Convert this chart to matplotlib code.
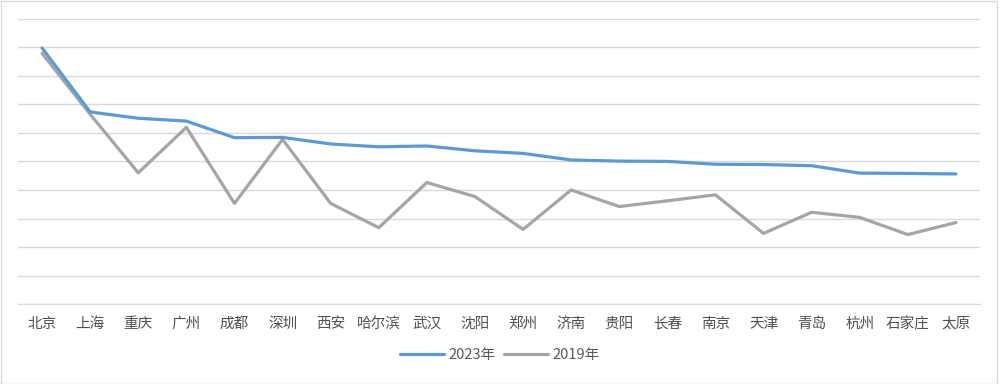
import matplotlib
matplotlib.use("Agg")
import matplotlib.pyplot as plt
from matplotlib.patches import Rectangle

plt.rcParams["font.family"] = ["Noto Sans CJK SC", "DejaVu Sans"]

cities = ["北京", "上海", "重庆", "广州", "成都", "深圳", "西安", "哈尔滨", "武汉", "沈阳",
          "郑州", "济南", "贵阳", "长春", "南京", "天津", "青岛", "杭州", "石家庄", "太原"]
v2023 = [8.97, 6.73, 6.51, 6.41, 5.83, 5.84, 5.61, 5.51, 5.54, 5.37,
         5.28, 5.05, 5.01, 5.00, 4.90, 4.89, 4.85, 4.59, 4.58, 4.56]
v2019 = [8.78, 6.65, 4.60, 6.19, 3.53, 5.77, 3.53, 2.68, 4.26, 3.77,
         2.62, 4.00, 3.42, 3.62, 3.83, 2.48, 3.22, 3.04, 2.44, 2.86]

fig = plt.figure(figsize=(10, 3.84), dpi=100)
ax = fig.add_axes([0.018, 0.2076, 0.962, 0.7442])

x = range(len(cities))
ax.plot(x, v2023, color="#5b9bd5", lw=2.3, label="2023年", solid_capstyle="round", zorder=3)
ax.plot(x, v2019, color="#a5a5a5", lw=2.3, label="2019年", solid_capstyle="round", zorder=2)

ax.set_xlim(-0.5, len(cities) - 0.5)
ax.set_ylim(0, 10)
ax.set_yticks(range(0, 11))
ax.yaxis.grid(True, color="#d9d9d9", lw=1)
ax.set_axisbelow(True)
ax.tick_params(axis="y", left=False, labelleft=False)
ax.tick_params(axis="x", length=0, pad=9, labelsize=10.5, labelcolor="#505050")
ax.set_xticks(list(x))
ax.set_xticklabels(cities)
for s in ["top", "right", "left"]:
    ax.spines[s].set_visible(False)
ax.spines["bottom"].set_color("#d9d9d9")

fig.legend(loc="center", bbox_to_anchor=(0.5, 0.075), ncol=2, frameon=False,
           fontsize=10.5, labelcolor="#595959", handlelength=3.0, handletextpad=0.3,
           columnspacing=0.6)

fig.patches.append(Rectangle((0.001, 0.001), 0.996, 0.996, transform=fig.transFigure,
                             fill=False, edgecolor="#d9d9d9", lw=1))

fig.savefig("out.png", dpi=100)
